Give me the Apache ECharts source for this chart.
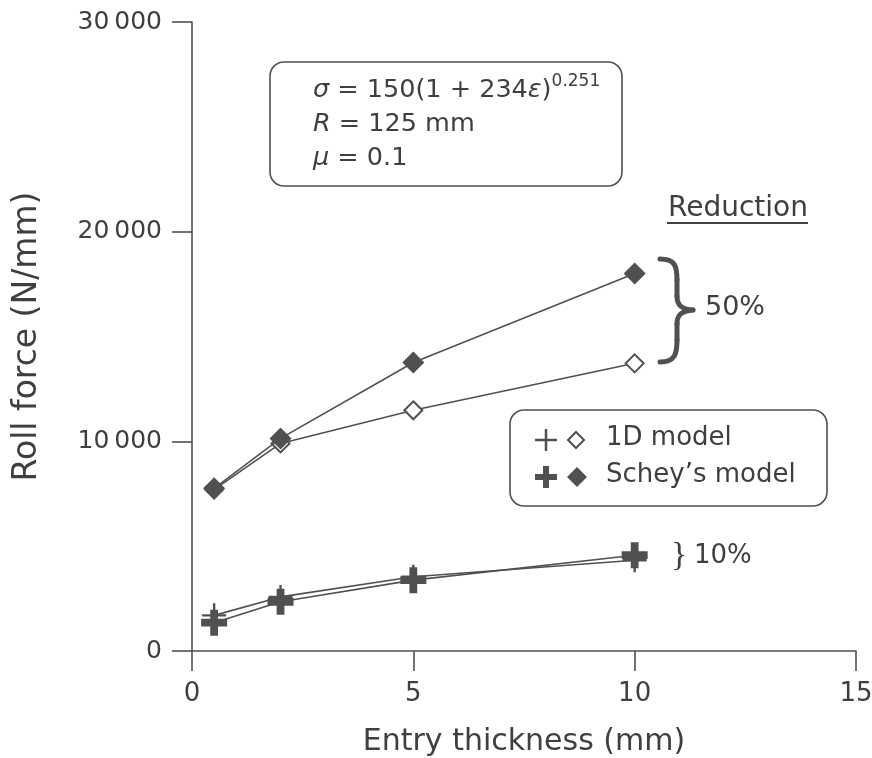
<!DOCTYPE html>
<html><head><meta charset="utf-8">
<script src="https://cdn.jsdelivr.net/npm/echarts@6/dist/echarts.min.js"></script>
<style>html,body{margin:0;padding:0;background:#fff}#c{width:872px;height:758px}</style>
</head><body><div id="c"></div>
<script>
// Entry thickness (mm)
const thickness = [0.5, 2, 5, 10];
// Roll force (N/mm), 50% reduction
const oneD50 = [7700, 9900, 11480, 13720];
const schey50 = [7760, 10140, 13760, 18000];
// Roll force (N/mm), 10% reduction
const oneD10 = [1700, 2580, 3540, 4330];
const schey10 = [1350, 2350, 3380, 4570];
// Axis ranges / ticks
const xRange = [0, 15], xStep = 5;
const yRange = [0, 30000], yStep = 10000;

const INK = '#505050';
const TXT = '#3f3f3f';
const FONT = 'DejaVu Sans';
const thinCross = 'path://M9,0h2v9h9v2h-9v9h-2v-9h-9v-2h9z';
const thickCross = 'path://M7,0h6v7h7v6h-7v7h-6v-7h-7v-6h7z';

const pts = arr => thickness.map((x, i) => [x, arr[i]]);

const chart = echarts.init(document.getElementById('c'), null, {renderer: 'canvas'});
const lineStyle = {color: INK, width: 1.6};

function cross(cx, cy, half, arm) {
  const a = arm / 2;
  return [[cx - a, cy - half], [cx + a, cy - half], [cx + a, cy - a], [cx + half, cy - a],
    [cx + half, cy + a], [cx + a, cy + a], [cx + a, cy + half], [cx - a, cy + half],
    [cx - a, cy + a], [cx - half, cy + a], [cx - half, cy - a], [cx - a, cy - a]];
}
function diamond(cx, cy, h) {
  return [[cx, cy - h], [cx + h, cy], [cx, cy + h], [cx - h, cy]];
}
const braceStyle = {stroke: INK, lineWidth: 5, lineCap: 'round', fill: 'none'};
function bez(x1, y1, cpx1, cpy1, cpx2, cpy2, x2, y2) {
  return {type: 'bezierCurve', z: 11, shape: {x1, y1, cpx1, cpy1, cpx2, cpy2, x2, y2}, style: braceStyle};
}
function seg(x1, y1, x2, y2) {
  return {type: 'line', z: 11, shape: {x1, y1, x2, y2}, style: braceStyle};
}

chart.setOption({
  animation: false,
  backgroundColor: '#fff',
  grid: {left: 192, right: 16, top: 22, bottom: 107, containLabel: false, outerBoundsMode: 'none'},
  xAxis: {
    type: 'value', min: xRange[0], max: xRange[1], interval: xStep,
    name: 'Entry thickness (mm)', nameLocation: 'middle', nameGap: 76,
    nameTextStyle: {fontFamily: FONT, fontSize: 30, color: TXT},
    axisLine: {show: true, onZero: false, lineStyle: {color: INK, width: 1.6}},
    axisTick: {show: true, inside: false, length: 20, lineStyle: {color: INK, width: 1.6}},
    axisLabel: {margin: 30, fontFamily: FONT, fontSize: 26, color: TXT},
    splitLine: {show: false}
  },
  yAxis: {
    type: 'value', min: yRange[0], max: yRange[1], interval: yStep,
    name: 'Roll force (N/mm)', nameLocation: 'middle', nameGap: 148, nameRotate: 90,
    nameTextStyle: {fontFamily: FONT, fontSize: 33, color: TXT, padding: [0, 0, 0, 0]},
    axisLine: {show: true, onZero: false, lineStyle: {color: INK, width: 1.6}},
    axisTick: {show: true, inside: false, length: 20, lineStyle: {color: INK, width: 1.6}},
    axisLabel: {margin: 30, fontFamily: FONT, fontSize: 25, color: TXT,
      formatter: v => v === 0 ? '0' : (v / 1000) + '\u2009000'},
    splitLine: {show: false}
  },
  series: [
    {name: '1D model 50%', type: 'line', data: pts(oneD50), symbol: 'emptyDiamond', symbolSize: 18,
      itemStyle: {color: INK, borderWidth: 2}, lineStyle, z: 2},
    {name: "Schey's model 50%", type: 'line', data: pts(schey50), symbol: 'diamond', symbolSize: 22,
      itemStyle: {color: INK}, lineStyle, z: 3},
    {name: "Schey's model 10%", type: 'line', data: pts(schey10), symbol: thickCross, symbolSize: 26,
      itemStyle: {color: INK}, lineStyle, z: 2},
    {name: '1D model 10%', type: 'line', data: pts(oneD10), symbol: thinCross, symbolSize: 24,
      itemStyle: {color: INK}, lineStyle, z: 3}
  ],
  graphic: [
    // annotation box
    {type: 'rect', shape: {x: 270, y: 62, width: 352, height: 124, r: 14},
      style: {fill: '#fff', stroke: INK, lineWidth: 1.6}, z: 10},
    {type: 'text', x: 313, y: 73, z: 11,
      style: {
        text: '{i|σ} = 150(1 + 234{i|ε}){s|0.251}\n{i|R} = 125 mm\n{i|μ} = 0.1',
        fontFamily: FONT, fontSize: 25.5, fill: TXT, lineHeight: 34,
        rich: {
          i: {fontFamily: FONT, fontSize: 25.5, fontStyle: 'italic', fill: TXT, lineHeight: 34},
          s: {fontFamily: FONT, fontSize: 17, fill: TXT, verticalAlign: 'top', lineHeight: 22}
        }
      }},
    // Reduction heading
    {type: 'text', x: 668, y: 195, z: 11,
      style: {text: 'Reduction', fontFamily: FONT, fontSize: 28, fill: TXT}},
    {type: 'line', shape: {x1: 667, y1: 223, x2: 808, y2: 223}, style: {stroke: TXT, lineWidth: 2}, z: 11},
    // 50% brace
    bez(660, 259, 675, 259, 677, 266, 677, 280),
    seg(677, 280, 677, 296),
    bez(677, 296, 677, 305, 681, 309, 693, 310),
    bez(693, 310, 681, 311, 677, 315, 677, 324),
    seg(677, 324, 677, 340),
    bez(677, 340, 677, 354, 675, 362, 660, 362),
    {type: 'text', x: 705, y: 294, z: 11,
      style: {text: '50%', fontFamily: FONT, fontSize: 27, fill: TXT}},
    // 10% brace
    {type: 'text', x: 671, y: 539, z: 11,
      style: {text: '}', fontFamily: 'Liberation Serif', fontSize: 34, fill: TXT}},
    {type: 'text', x: 694, y: 543, z: 11,
      style: {text: '10%', fontFamily: FONT, fontSize: 26, fill: TXT}},
    // legend box
    {type: 'rect', shape: {x: 510, y: 410, width: 317, height: 96, r: 14},
      style: {fill: '#fff', stroke: INK, lineWidth: 1.6}, z: 10},
    {type: 'polygon', z: 11, shape: {points: cross(546, 440, 11, 2.5)}, style: {fill: INK}},
    {type: 'polygon', z: 11, shape: {points: diamond(576, 440, 8)}, style: {fill: '#fff', stroke: INK, lineWidth: 2}},
    {type: 'polygon', z: 11, shape: {points: cross(546, 477, 11, 6)}, style: {fill: INK}},
    {type: 'polygon', z: 11, shape: {points: diamond(577, 477, 10)}, style: {fill: INK}},
    {type: 'text', x: 606, y: 425, z: 11,
      style: {text: '1D model', fontFamily: FONT, fontSize: 26, fill: TXT}},
    {type: 'text', x: 606, y: 462, z: 11,
      style: {text: 'Schey\u2019s model', fontFamily: FONT, fontSize: 26, fill: TXT}}
  ]
});
</script>
</body></html>
